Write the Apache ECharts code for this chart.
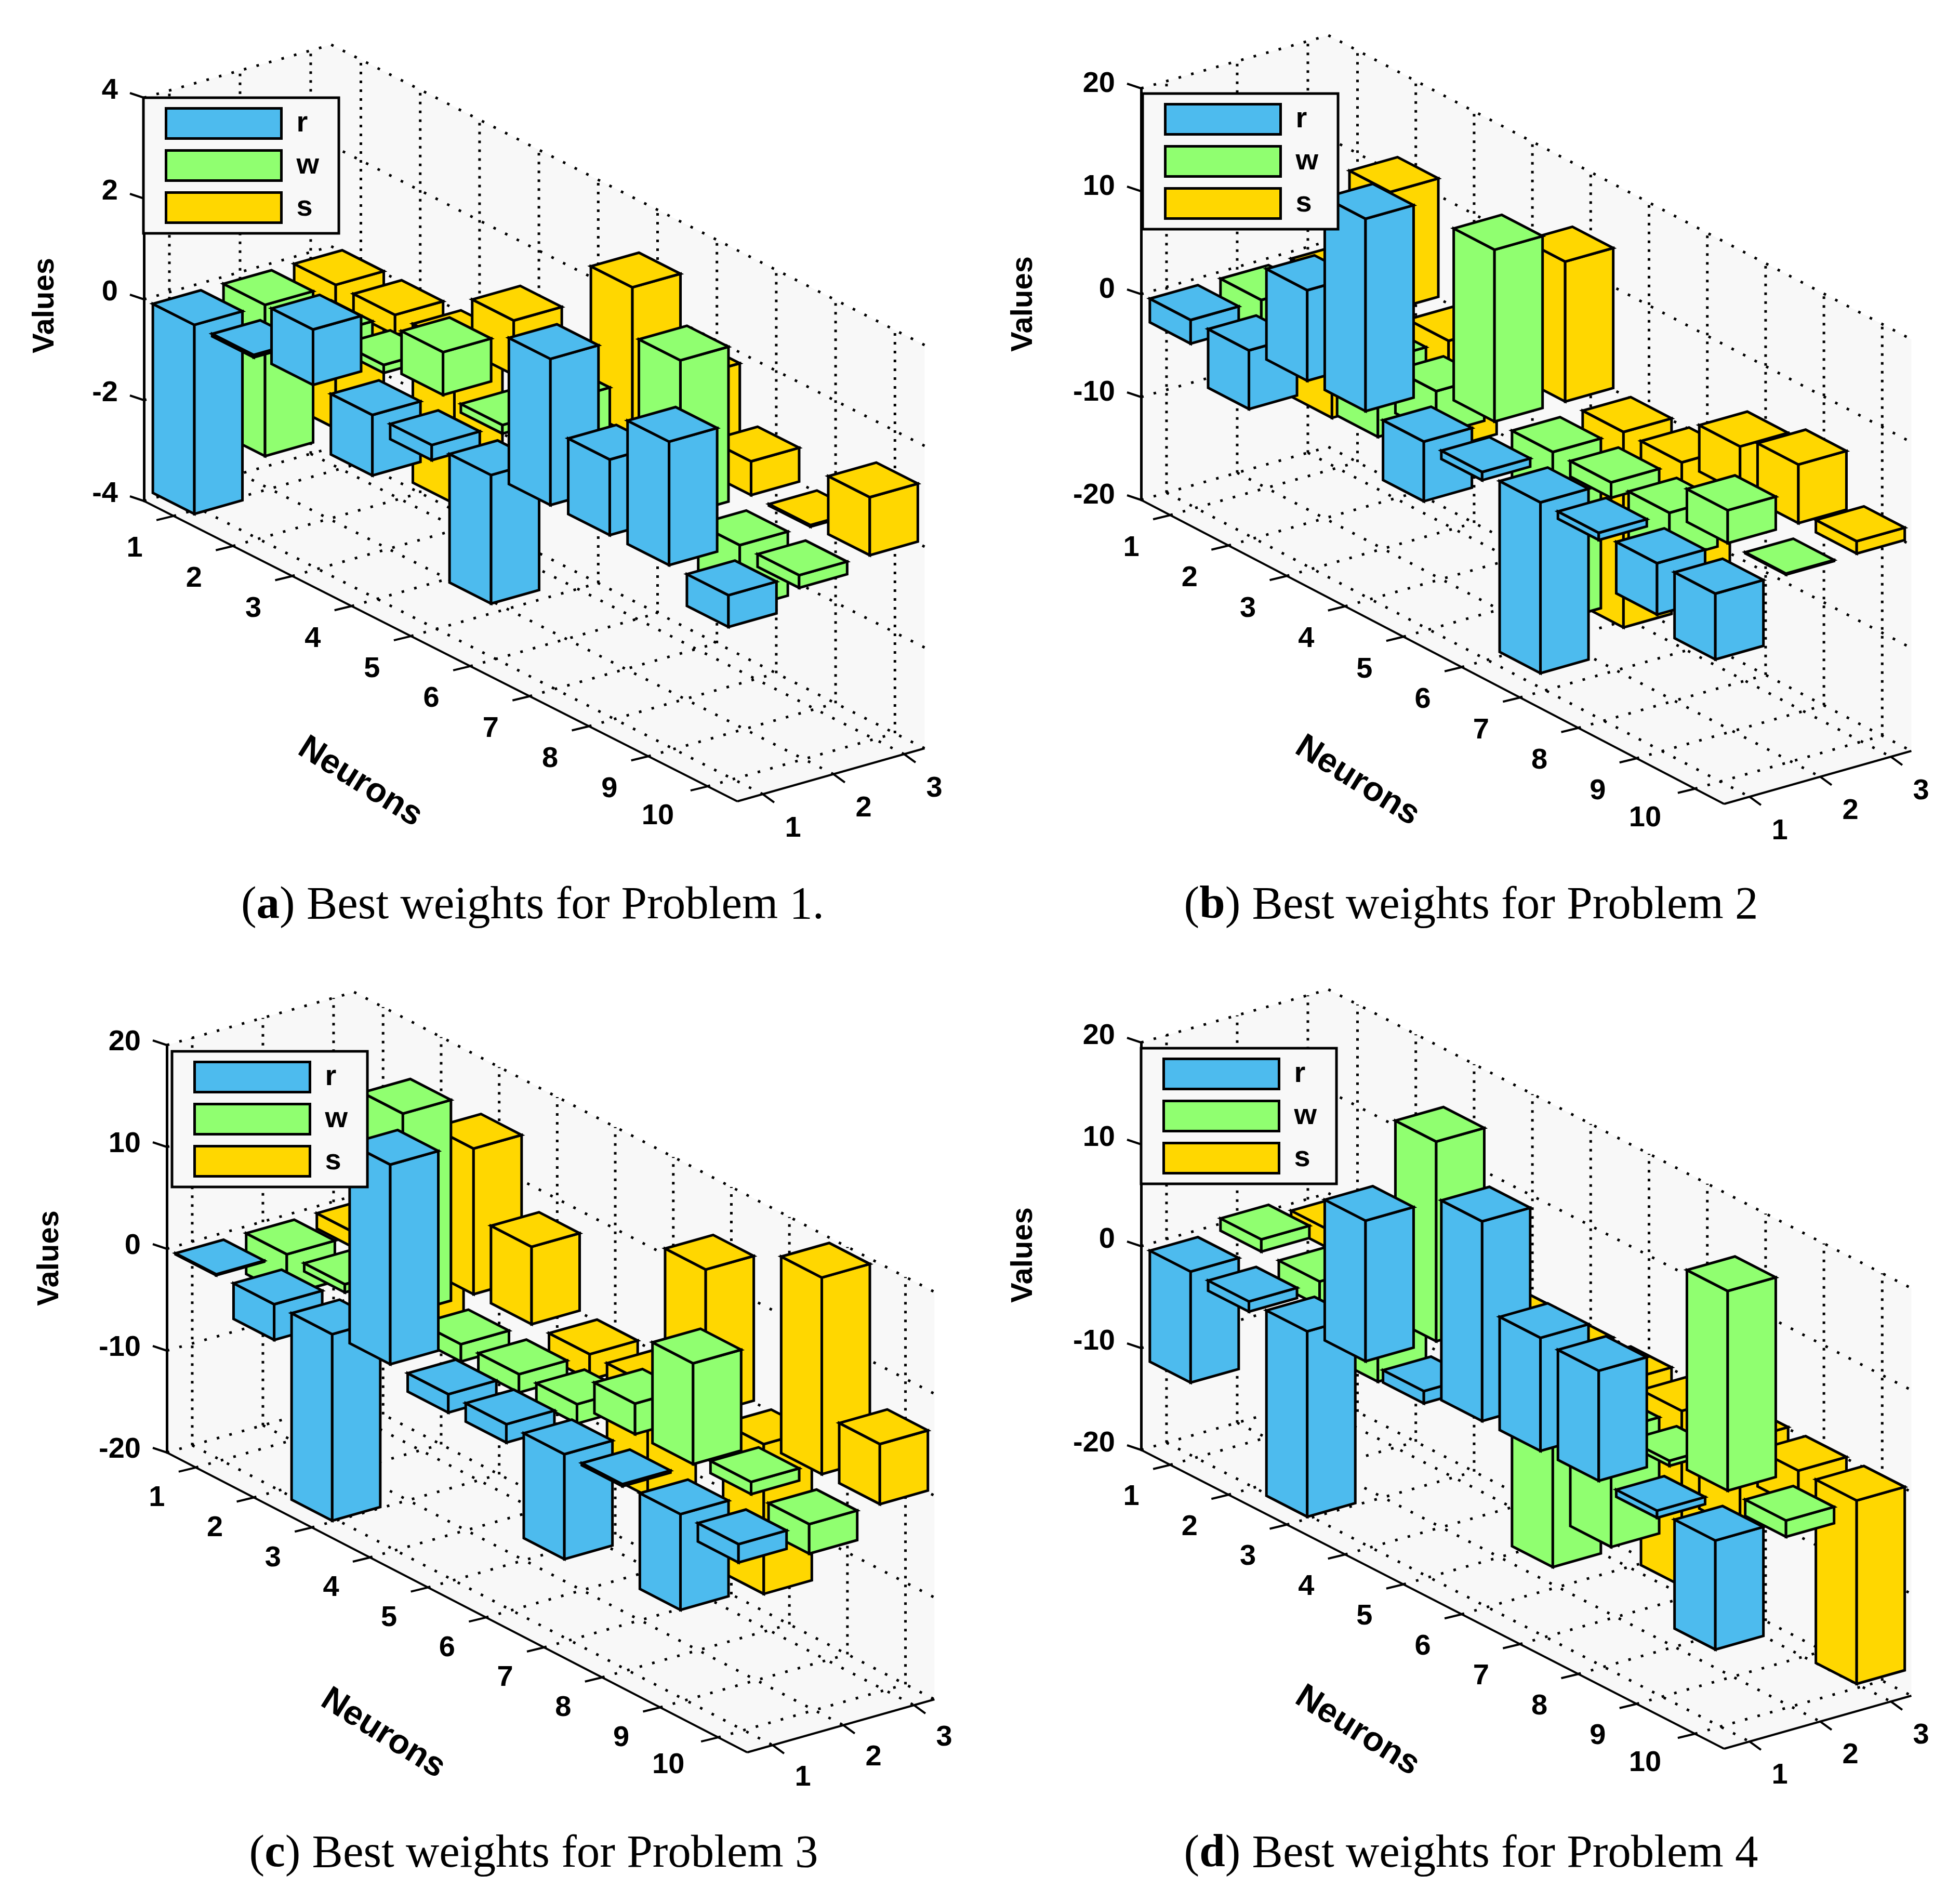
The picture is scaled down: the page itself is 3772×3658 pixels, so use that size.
<!DOCTYPE html>
<html><head><meta charset="utf-8">
<style>html,body{margin:0;padding:0;background:#fff}#c{width:3772px;height:3658px}</style>
<script src="https://cdn.jsdelivr.net/npm/echarts@6/dist/echarts.min.js"></script>
</head><body><div id="c"></div>
<script>
const neurons=[1,2,3,4,5,6,7,8,9,10];
const columns=[1,2,3];
const seriesNames=['r','w','s'];
const colors=['#4DBBEE','#90FF70','#FFD700'];
const captions=['Best weights for Problem 1.','Best weights for Problem 2','Best weights for Problem 3','Best weights for Problem 4'];
const captionLetters=['a','b','c','d'];
const valueRanges=[[-4,4,2],[-20,20,10],[-20,20,10],[-20,20,10]];

const p1r=[-3.75,-0.05,1.1,-1.2,-0.3,-2.55,2.9,1.5,2.45,-0.63];
const p1w=[-3,-0.3,-0.16,0.85,-0.17,1.07,-0.5,3.07,-1.27,-0.25];
const p1s=[-2.85,-0.4,-3.15,1.08,-1,2.93,1.75,0.67,-0.03,1.15];

const p2r=[-2.3,-5.7,8.8,18.7,-5.8,-0.8,-16.6,-0.7,-5,-6.4];
const p2w=[-4,-4,-7.4,-4.2,16.7,-16.5,-1.5,-4.6,3.2,-0.1];
const p2s=[-13.4,11.5,-10.4,-2,13.6,-19,-11,4.5,5.7,1.2];

const p3r=[-0.1,-3.5,-18.3,19.6,-1.8,-1.8,-10.3,-0.2,-9.4,-1.8];
const p3w=[-4,-0.8,19.7,-1.7,-1.8,-1.9,3,9.9,1.2,-2.9];
const p3s=[-1.5,-6.4,14.3,7.6,-2.5,-11,14.2,-14.7,19.3,5.9];

const p4r=[-10.9,-1,-18.2,13.8,-1.2,19.6,11.1,10.8,-0.7,-10.7];
const p4w=[1.2,-2.4,-6.9,19.6,-4,-16.3,-11.4,-0.5,19.6,-1.6];
const p4s=[-1.8,-5,-4,-4,-6,-7,-17.2,-8.7,-3.6,-18];

const panelValues=[[p1r,p1w,p1s],[p2r,p2w,p2s],[p3r,p3w,p3s],[p4r,p4w,p4s]];

// layout of each panel
const layouts=[
 {x:277,bottom:964,top:188,nx:1142,ny:578,valX:87,valY:588,lg:[276,188],capX:1020,capY:1739,lh:26,ty:6},
 {x:2196,bottom:962,top:170,nx:1122,ny:585,valX:1970,valY:585,lg:[2199,180],capX:2826,capY:1739,lh:16,ty:6},
 {x:321,bottom:2795,top:2011,nx:1117,ny:577,valX:96,valY:2421,lg:[331,2023],capX:1022,capY:3564,lh:10,ty:2},
 {x:2196,bottom:2790,top:2006,nx:1122,ny:575,valX:1970,valY:2415,lg:[2196,2017],capX:2826,capY:3564,lh:24,ty:5}
];
const S0=0.64,S1=3.29,SX=136,SY=-38.5,HN=0.35,HS=0.34,N0=0.5,N1=10.5,BAR_DS=-0.02;
const FONT='"Liberation Sans",Arial,sans-serif';

function proj(api,L,n,s,z){
  const c=api.coord([n,z]);
  return [c[0]+(s-S0)*SX, c[1]+(n-N0)*L.ny/10+(s-S0)*SY];
}
function barItem(L,sIdx){
  return function(params,api){
    const n=api.value(0),v=api.value(1),s=columns[sIdx];
    const t=Math.max(v,0),b=Math.min(v,0);
    const P=(a,c,z)=>proj(api,L,a,c,z);
    const st={fill:colors[sIdx],stroke:'#000',lineWidth:5,lineJoin:'miter'};
    const z2=n*10-s;
    const n0=n-HN,n1=n+HN,s0=s+BAR_DS-HS,s1=s+BAR_DS+HS;
    return {type:'group',silent:true,children:[
      {type:'polygon',z2,shape:{points:[P(n0,s0,t),P(n1,s0,t),P(n1,s0,b),P(n0,s0,b)]},style:st},
      {type:'polygon',z2,shape:{points:[P(n1,s0,t),P(n1,s1,t),P(n1,s1,b),P(n1,s0,b)]},style:st},
      {type:'polygon',z2,shape:{points:[P(n0,s0,t),P(n1,s0,t),P(n1,s1,t),P(n0,s1,t)]},style:st}
    ]};
  };
}
function frameItem(L,range){
  return function(params,api){
    const [zmin,zmax,step]=range;
    const P=(a,c,z)=>proj(api,L,a,c,z);
    const ch=[];
    ch.push({type:'polygon',shape:{points:[P(N0,S0,zmin),P(N1,S0,zmin),P(N1,S1,zmin),P(N1,S1,zmax),P(N0,S1,zmax),P(N0,S0,zmax)]},style:{fill:'#F8F8F8',stroke:null}});
    const dotS={stroke:'#000',lineWidth:5,lineDash:[5,20],fill:null};
    const dotV={stroke:'#000',lineWidth:5,lineDash:[5,12],fill:null};
    const line=(a,b,st)=>ch.push({type:'line',shape:{x1:a[0],y1:a[1],x2:b[0],y2:b[1]},style:st});
    const zt=[];for(let z=zmin;z<=zmax+1e-9;z+=step)zt.push(z);
    zt.forEach(z=>{line(P(N0,S0,z),P(N0,S1,z),dotS);line(P(N0,S1,z),P(N1,S1,z),dotS);});
    columns.forEach(s=>{line(P(N0,s,zmin),P(N0,s,zmax),dotV);line(P(N0,s,zmin),P(N1,s,zmin),dotS);});
    neurons.forEach(n=>{line(P(n,S1,zmin),P(n,S1,zmax),dotV);line(P(n,S0,zmin),P(n,S1,zmin),dotS);});
    const solid={stroke:'#000',lineWidth:4,fill:null};
    line(P(N0,S0,zmin),P(N1,S0,zmin),solid);
    line(P(N1,S0,zmin),P(N1,S1,zmin),solid);
    const lab={fill:'#000',font:'bold 56px '+FONT,align:'center',verticalAlign:'middle'};
    const text=(t,x,y,extra)=>ch.push(Object.assign({type:'text',x,y,style:Object.assign({},lab,{text:t})},extra||{}));
    neurons.forEach(n=>{
      const a=P(n,S0,zmin);
      line(a,[a[0]-33,a[1]+8],solid);
      text(String(n),a[0]-(n===10?96:75),a[1]+(n===10?51:57)+L.ty);
    });
    columns.forEach(s=>{
      const a=P(N1,s,zmin);
      line(a,[a[0]+22,a[1]+16],solid);
      text(String(s),a[0]+58,a[1]+60+L.ty);
    });
    zt.forEach(z=>{const a=P(N0,S0,z);line(a,[a[0]-27,a[1]-9],solid);});
    const o=P(N0,S0,zmin);
    text('Neurons',o[0]+416,o[1]+541,{rotation:-0.56,style:Object.assign({},lab,{text:'Neurons',font:'bold 66px '+FONT})});
    text('Values',L.valX,L.valY,{rotation:Math.PI/2,style:Object.assign({},lab,{text:'Values',font:'bold 58px '+FONT})});
    return {type:'group',silent:true,children:ch};
  };
}
const grid=[],xAxis=[],yAxis=[],series=[],legend=[],title=[];
layouts.forEach((L,i)=>{
  const r=valueRanges[i];
  grid.push({left:L.x,top:L.top,width:L.nx,height:L.bottom-L.top,containLabel:false});
  xAxis.push({gridIndex:i,type:'value',min:N0,max:N1,show:false});
  yAxis.push({gridIndex:i,type:'value',min:r[0],max:r[1],interval:r[2],z:3,
    axisLine:{show:true,onZero:false,lineStyle:{color:'#000',width:5}},axisTick:{show:false},splitLine:{show:false},
    axisLabel:{color:'#000',fontSize:56,fontWeight:'bold',fontFamily:FONT,margin:50,verticalAlign:'bottom',lineHeight:L.lh}});
  series.push({type:'custom',name:'frame'+i,xAxisIndex:i,yAxisIndex:i,z:1,clip:false,silent:true,
    renderItem:frameItem(L,r),data:[[1,0]],tooltip:{show:false}});
  seriesNames.forEach((nm,j)=>{
    series.push({type:'custom',name:nm,xAxisIndex:i,yAxisIndex:i,z:2,clip:false,silent:true,
      itemStyle:{color:colors[j]},encode:{x:0,y:1},
      renderItem:barItem(L,j),data:neurons.map((n,k)=>[n,panelValues[i][j][k]])});
  });
  legend.push({show:true,data:seriesNames,left:L.lg[0],top:L.lg[1],orient:'vertical',icon:'rect',selectedMode:false,z:10,
    itemWidth:222,itemHeight:58,itemGap:18,padding:[18,38,18,41],
    backgroundColor:'#F8F8F8',borderColor:'#000',borderWidth:5,
    itemStyle:{borderColor:'#000',borderWidth:5},
    textStyle:{color:'#000',fontSize:56,fontWeight:'bold',fontFamily:FONT,lineHeight:30,padding:[26,0,0,24]}});
  title.push({left:L.capX,top:L.capY-45,textAlign:'center',
    text:'({b|'+captionLetters[i]+'}) '+captions[i],
    textStyle:{color:'#000',fontSize:89,fontWeight:'normal',fontFamily:'"Liberation Serif",serif',
      rich:{b:{fontSize:89,fontWeight:'bold',fontFamily:'"Liberation Serif",serif',color:'#000'}}}});
});
const chart=echarts.init(document.getElementById('c'),null,{renderer:'canvas',width:3772,height:3658,devicePixelRatio:1});
chart.setOption({animation:false,backgroundColor:'#fff',grid,xAxis,yAxis,series,legend,title});
</script></body></html>
